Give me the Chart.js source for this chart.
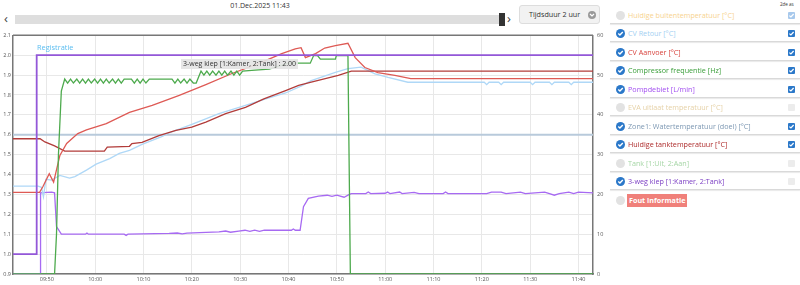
<!DOCTYPE html>
<html>
<head>
<meta charset="utf-8">
<script src="https://cdn.jsdelivr.net/npm/chart.js@4.4.1/dist/chart.umd.min.js"></script>
<style>
  body { margin: 0; width: 800px; height: 285px; overflow: hidden; background: #fff; font-family: 'Open Sans', sans-serif; position: relative; }
  svg { display: block; }
  #datum { position: absolute; left: 200px; width: 120px; top: 1px; text-align: center; font-size: 7px; color: #333; }
  #pijlL, #pijlR { position: absolute; top: 11px; font-size: 13px; color: #444; line-height: 14px; }
  #pijlL { left: 4px; }
  #pijlR { left: 507px; }
  #balk { position: absolute; left: 15px; top: 15px; width: 486px; height: 9px; background: #dedede; }
  #greep { position: absolute; left: 499px; top: 13px; width: 6px; height: 13px; background: #333; }
  #knop { position: absolute; left: 519px; top: 5px; width: 81px; height: 19px; background: #f2f2f2; border: 1px solid #ddd; border-radius: 3px; box-sizing: border-box; font-size: 7.2px; color: #333; line-height: 17px; padding-left: 9px; }
  #knop .rond { position: absolute; left: 68px; top: 5px; width: 8px; height: 8px; border-radius: 50%; background: #9a9a9a; }
  #grafiek { position: absolute; left: 0; top: 28px; }
  #registratie { position: absolute; left: 37px; top: 42px; font-size: 7.4px; color: #5bbdf0; }
  #tip { position: absolute; left: 181px; top: 59px; width: 117px; height: 10px; background: rgba(228,228,228,0.92); font-size: 7px; color: #333; line-height: 10px; text-align: center; }
  #legenda { position: absolute; left: 608px; top: 0; width: 192px; height: 285px; }
  .rij { position: absolute; left: 0; width: 192px; height: 18px; }
  .lijn { position: absolute; left: 2px; width: 190px; height: 1px; background: #d9d9d9; box-shadow: 0 1px 1px #e6e6e6; }
  .icoon { position: absolute; left: 8px; top: 4px; width: 9px; height: 9px; border-radius: 50%; line-height: 0; }
  .naam { position: absolute; left: 20px; top: 2px; font-size: 7.2px; line-height: 13px; white-space: nowrap; }
  .vak { position: absolute; left: 180px; top: 5px; width: 7px; height: 7px; border-radius: 1px; line-height: 0; }
  #as2 { position: absolute; left: 780px; top: 1px; font-size: 4.5px; color: #333; white-space: nowrap; }
</style>
</head>
<body>
<div id="datum">01.Dec.2025 11:43</div>
<div id="pijlL">&#x2039;</div>
<div id="balk"></div>
<div id="greep"></div>
<div id="pijlR">&#x203A;</div>
<div id="knop">Tijdsduur 2 uur<div class="rond"><svg width="8" height="8" viewBox="0 0 8 8"><path d="M2 3 L4 5 L6 3" stroke="#fff" stroke-width="1.2" fill="none"/></svg></div></div>
<canvas id="grafiek" width="606" height="257"></canvas>
<div id="registratie">Registratie</div>
<div id="tip">3-weg klep [1:Kamer, 2:Tank] : 2.00</div>
<div id="legenda"></div>
<div id="as2">2de as</div>

<script>
// tijden in minuten na middernacht (09:43 = 583)
const xMin = 583;
const xMax = 703;
const xTicks = [590, 600, 610, 620, 630, 640, 650, 660, 670, 680, 690, 700];
const xTickLabels = ['09:50', '10:00', '10:10', '10:20', '10:30', '10:40', '10:50', '11:00', '11:10', '11:20', '11:30', '11:40'];
const leftTicks = [0.9, 1.0, 1.1, 1.2, 1.3, 1.4, 1.5, 1.6, 1.7, 1.8, 1.9, 2.0, 2.1];
const rightTicks = [0, 10, 20, 30, 40, 50, 60];

const cvRetour = [
  [583, 22.1], [588.2, 22.1], [588.9, 21.8], [589.3, 19.4], [589.8, 23.8], [591, 23.6], [592.7, 24.8],
  [594.7, 24.1], [595.8, 24.5], [598.2, 26.1], [600.2, 27.6], [603, 29.0], [605, 30.3], [607.1, 31.1],
  [609.7, 32.6], [613.9, 34.6], [615.3, 35.5], [620, 37.6], [625.6, 40.3], [631.1, 42.4], [635.3, 44.0],
  [639.4, 45.5], [642.7, 47.3], [644.7, 48.6], [649.7, 50.7], [652.3, 51.6], [655, 52.0], [657.9, 50.3],
  [660.6, 49.4], [664.7, 48.2], [680.5, 48.2], [681, 47.6], [681.5, 48.2], [683.5, 48.2], [684, 47.6],
  [684.5, 48.2], [690, 48.2], [690.5, 47.6], [691, 48.2], [694, 48.2], [694.5, 47.6], [695, 48.2],
  [698, 48.2], [698.5, 47.6], [699, 48.2], [703, 48.2]
];

const cvAanvoer = [
  [583, 20.5], [588.5, 20.5], [589.2, 22.0], [590.5, 25.2], [591.4, 23.1], [592.7, 29.8], [594.1, 32.8],
  [596.4, 35.3], [598.2, 36.2], [602.3, 37.8], [607.1, 40.6], [611.8, 42.4], [617.4, 44.9], [622.9, 47.6],
  [628.3, 50.4], [633.8, 52.9], [638.6, 55.4], [641.4, 56.6], [642.6, 56.9], [643.5, 54.4], [645.6, 55.4],
  [647.5, 56.8], [649.7, 57.4], [652.3, 58.0], [653.8, 54.4], [655.8, 51.9], [658.5, 50.6], [662, 49.9],
  [665.3, 49.1], [703, 49.1]
];

const compressor = [
  [583, 0], [591.6, 0], [592.0, 10], [592.4, 30], [593.0, 46], [593.7, 49.0],
  [594.3, 48.0], [594.9, 49.0], [595.5, 48.0], [596.2, 49.0], [596.8, 48.0], [597.4, 49.0], [598.0, 48.0],
  [598.6, 49.0], [599.2, 48.0], [599.9, 49.0], [600.5, 48.0], [601.1, 49.0], [601.7, 48.0], [602.3, 49.0],
  [602.9, 48.0], [603.6, 49.0], [604.2, 48.0], [604.8, 49.0], [605.4, 48.0], [606.0, 49.0], [607.5, 49.0],
  [608.1, 48.0], [608.7, 49.0], [609.3, 48.0], [609.9, 49.0], [610.5, 48.0], [611.2, 49.0], [615.9, 49.0],
  [616.5, 48.0], [617.1, 49.0], [617.7, 48.0], [618.4, 49.0], [619.0, 48.0], [619.6, 49.0], [620.3, 48.0],
  [620.9, 48.0], [621.9, 51.0], [622.5, 50.0], [623.1, 51.0], [623.7, 50.0], [624.3, 51.0], [625.0, 50.0],
  [625.6, 51.0], [626.2, 50.0], [626.8, 51.0], [627.4, 50.0], [628.1, 51.0], [628.7, 50.0], [629.3, 51.0],
  [629.9, 50.0], [630.5, 51.0], [632.4, 51.2], [636, 51.5], [640, 53.0], [644.5, 53.0], [645.2, 54.9],
  [646.0, 54.9], [646.6, 54.0], [649.7, 54.0], [649.9, 54.9], [652.3, 54.9], [652.8, 0], [703, 0]
];

const pompdebiet = [
  [583, 0], [588.6, 0], [588.7, 20.4], [590, 20.5], [591, 20.6], [591.6, 20.4], [592, 11.9], [593, 10.0],
  [598, 10.0], [598.3, 10.3], [598.6, 10.0], [606, 10.0], [606.4, 9.7], [606.8, 10.0], [615.3, 10.2],
  [617, 10.3], [618, 10.1], [619, 10.3], [625.6, 10.6], [627, 10.8], [628, 10.5], [629.7, 10.8], [631, 11.0],
  [632, 10.7], [633, 11.0], [634, 10.7], [635, 11.0], [640.6, 11.0], [641, 11.3], [641.4, 11.0], [642.4, 11.0],
  [643.1, 16.9], [644.1, 19.0], [646.2, 19.6], [648, 19.8], [649, 19.5], [650, 19.8], [651.5, 19.3],
  [652.6, 20.0], [653, 20.2], [656, 20.2], [656.5, 20.6], [657, 20.2], [660, 20.3], [660.5, 20.6], [661, 20.2],
  [663, 20.6], [663.5, 20.2], [666, 20.5], [667, 20.2], [672, 20.2], [672.5, 20.6], [673, 20.2], [681, 20.2],
  [682, 20.6], [684, 20.6], [685, 20.2], [688, 20.6], [689, 20.2], [693, 20.6], [694, 20.2], [695, 19.8],
  [696, 20.2], [698, 20.6], [699, 20.2], [700, 20.6], [703, 20.4]
];

const zone1Doel = [[583, 35], [703, 35]];

const tankTemp = [
  [583, 34.0], [588.6, 34.0], [589.6, 33.2], [591.6, 32.2], [593.7, 30.9], [601.9, 30.9], [602.5, 31.9],
  [607.1, 32.1], [607.6, 32.8], [609.7, 33.1], [613.2, 34.8], [616.7, 36.1], [620, 36.9], [622.9, 38.2],
  [627, 40.3], [631.1, 41.9], [634.9, 44.0], [639.4, 46.1], [642.1, 47.4], [644.7, 48.2], [650.3, 49.9],
  [653, 51.0], [703, 51.0]
];

// 3-weg klep staat op de linker as (1 = kamer, 2 = tank)
const driewegKlep = [[583, 1], [587.9, 1], [587.9, 2], [703, 2]];

// legenda naast de grafiek
const legendNames = ['Huidige buitentemperatuur [°C]', 'CV Retour [°C]', 'CV Aanvoer [°C]', 'Compressor frequentie [Hz]',
  'Pompdebiet [L/min]', 'EVA uitlaat temperatuur [°C]', 'Zone1: Watertemperatuur (doel) [°C]',
  'Huidige tanktemperatuur [°C]', 'Tank [1:Uit, 2:Aan]', '3-weg klep [1:Kamer, 2:Tank]', 'Fout informatie'];
const legendColors = ['#f7d38f', '#a3cff2', '#d8453f', '#3a9e3a', '#a24ef0', '#e6d2a8', '#7d98b3', '#ad2b2b', '#a6d6a6', '#7c3fc4', '#fff'];
const legendOn = [0, 1, 1, 1, 1, 0, 1, 1, 0, 1, 0];
const legendBox = [2, 1, 1, 1, 1, 0, 1, 1, 0, 0, -1];

const leg = document.getElementById('legenda');
legendNames.forEach((naam, i) => {
  const rij = document.createElement('div');
  rij.className = 'rij';
  rij.style.top = (6.5 + i * 18.5) + 'px';
  const ic = document.createElement('div');
  ic.className = 'icoon';
  ic.style.background = legendOn[i] ? '#2b78c9' : '#e2e2e2';
  if (legendOn[i]) ic.innerHTML = '<svg width="9" height="9" viewBox="0 0 9 9"><path d="M2.3 4.6 L3.9 6.1 L6.8 3" stroke="#fff" stroke-width="1.4" fill="none"/></svg>';
  rij.appendChild(ic);
  const t = document.createElement('div');
  t.className = 'naam';
  t.textContent = naam;
  t.style.color = legendColors[i];
  if (i === 10) {
    t.style.background = '#f0807a';
    t.style.fontWeight = 'bold';
    t.style.padding = '0 2px';
    t.style.left = '19px';
  }
  rij.appendChild(t);
  if (legendBox[i] >= 0) {
    const v = document.createElement('div');
    v.className = 'vak';
    v.style.background = legendBox[i] === 1 ? '#2b78c9' : (legendBox[i] === 2 ? '#a8c9ec' : '#ececec');
    if (legendBox[i] > 0) v.innerHTML = '<svg width="7" height="7" viewBox="0 0 7 7"><path d="M1.4 3.6 L2.9 5 L5.6 2" stroke="#fff" stroke-width="1.2" fill="none"/></svg>';
    rij.appendChild(v);
  }
  leg.appendChild(rij);
  if (i < 10) {
    const l = document.createElement('div');
    l.className = 'lijn';
    l.style.top = (6.5 + i * 18.5 + 16) + 'px';
    leg.appendChild(l);
  }
});

const pts = arr => arr.map(p => ({ x: p[0], y: p[1] }));

function lijn(label, data, kleur, as, breedte) {
  return {
    label: label,
    data: pts(data),
    borderColor: kleur,
    backgroundColor: kleur,
    borderWidth: breedte || 1.3,
    pointRadius: 0,
    tension: 0,
    fill: false,
    yAxisID: as
  };
}

const randPlugin = {
  id: 'rand',
  afterDraw(chart) {
    const a = chart.chartArea;
    const c = chart.ctx;
    c.save();
    c.strokeStyle = '#777';
    c.lineWidth = 1.5;
    c.beginPath();
    c.moveTo(a.left, a.top);
    c.lineTo(a.right, a.top);
    c.stroke();
    c.restore();
  }
};

new Chart(document.getElementById('grafiek'), {
  type: 'line',
  data: {
    datasets: [
      lijn('3-weg klep [1:Kamer, 2:Tank]', driewegKlep, '#9357d8', 'y', 1.8),
      lijn('Compressor frequentie [Hz]', compressor, '#4daa4d', 'y2'),
      lijn('CV Aanvoer [°C]', cvAanvoer, '#de5a55', 'y2'),
      lijn('Huidige tanktemperatuur [°C]', tankTemp, '#b23c3a', 'y2'),
      lijn('CV Retour [°C]', cvRetour, '#afd8f7', 'y2'),
      lijn('Pompdebiet [L/min]', pompdebiet, '#a76af2', 'y2'),
      lijn('Zone1: Watertemperatuur (doel) [°C]', zone1Doel, '#b8cadb', 'y2', 2)
    ]
  },
  options: {
    responsive: false,
    animation: false,
    devicePixelRatio: 1,
    layout: { padding: { top: 7 } },
    plugins: { legend: { display: false }, tooltip: { enabled: false } },
    scales: {
      x: {
        type: 'linear',
        min: xMin,
        max: xMax,
        afterBuildTicks: s => { s.ticks = xTicks.map(v => ({ value: v })); },
        afterFit: s => { s.height = 11; },
        ticks: {
          callback: (v, i) => xTickLabels[i],
          font: { family: 'Open Sans', size: 5.5 },
          color: '#555',
          maxRotation: 0,
          autoSkip: false,
          padding: 2
        },
        grid: { color: '#e8e8e8', drawTicks: false },
        border: { color: '#777', width: 1.5 }
      },
      y: {
        position: 'left',
        min: 0.9,
        max: 2.1,
        afterBuildTicks: s => { s.ticks = leftTicks.map(v => ({ value: v })); },
        afterFit: s => { s.width = 13; },
        ticks: {
          callback: v => v.toFixed(1),
          font: { family: 'Open Sans', size: 5.5 },
          color: '#555',
          padding: 2
        },
        grid: { color: '#e8e8e8', drawTicks: false },
        border: { color: '#777', width: 1.5 }
      },
      y2: {
        position: 'right',
        min: 0,
        max: 60,
        afterBuildTicks: s => { s.ticks = rightTicks.map(v => ({ value: v })); },
        afterFit: s => { s.width = 13; },
        ticks: {
          font: { family: 'Open Sans', size: 5.5 },
          color: '#555',
          padding: 4
        },
        grid: { drawOnChartArea: false, drawTicks: false },
        border: { color: '#777', width: 1.5 }
      }
    }
  },
  plugins: [randPlugin]
});
</script>
</body>
</html>
